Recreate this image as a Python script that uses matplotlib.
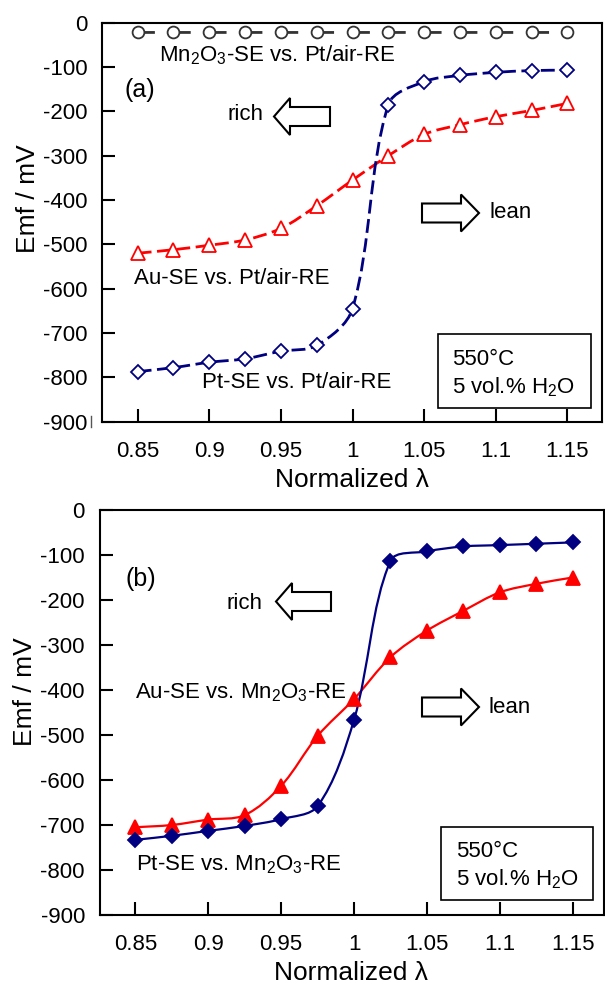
import numpy as np
import matplotlib
matplotlib.use("Agg")
import matplotlib.pyplot as plt
from matplotlib.path import Path
from matplotlib.patches import PathPatch, Polygon, Rectangle
from matplotlib.lines import Line2D

plt.rcParams['font.family'] = ['Liberation Sans', 'DejaVu Sans']
plt.rcParams['mathtext.fontset'] = 'custom'
plt.rcParams['mathtext.rm'] = 'Liberation Sans'
plt.rcParams['mathtext.it'] = 'Liberation Sans:italic'
plt.rcParams['lines.scale_dashes'] = False

# normalized lambda, same for every series
lam = [0.85, 0.875, 0.9, 0.925, 0.95, 0.975, 1.0, 1.025, 1.05, 1.075, 1.1, 1.125, 1.15]

# (a) sensing electrodes vs. Pt/air reference
emf_mn2o3_air = [-22, -22, -22, -22, -22, -22, -22, -22, -22, -22, -22, -22, -22]
emf_au_air = [-520, -512, -502, -490, -464, -413, -355, -300, -252, -230, -212, -198, -182]
emf_pt_air = [-787, -778, -766, -758, -741, -728, -645, -185, -133, -119, -112, -108, -107]

# (b) sensing electrodes vs. Mn2O3 reference
emf_au_mn = [-705, -700, -688, -678, -613, -502, -420, -327, -268, -224, -183, -164, -150]
emf_pt_mn = [-733, -724, -713, -702, -687, -658, -466, -113, -92, -81, -78, -75, -72]

xticks = [0.85, 0.9, 0.95, 1.0, 1.05, 1.1, 1.15]
xticklabels = ['0.85', '0.9', '0.95', '1', '1.05', '1.1', '1.15']
yticks = [0, -100, -200, -300, -400, -500, -600, -700, -800, -900]
yticklabels = ['0', '-100', '-200', '-300', '-400', '-500', '-600', '-700', '-800', '-900']

NAVY = '#000080'
RED = '#ff0000'
GREY = '#333333'
W, H = 605, 989


def smooth_path(ax, x, y):
    # smoothed line: cubic Bezier through every point, tangents weighted
    # by the on-screen length of the neighbouring segments
    p = np.column_stack([x, y]).astype(float)
    scr = ax.transData.transform(p)
    n = len(p)
    seg = np.hypot(*np.diff(scr, axis=0).T)
    verts = [p[0]]
    codes = [Path.MOVETO]

    def tangent(i):
        a = p[i - 1] if i > 0 else p[i]
        b = p[i + 1] if i + 1 < n else p[i]
        la = seg[i - 1] if i > 0 else 0.0
        lb = seg[i] if i + 1 < n else 0.0
        return b - a, la, lb

    for i in range(n - 1):
        t0, la0, lb0 = tangent(i)
        t1, la1, lb1 = tangent(i + 1)
        c1 = p[i] + t0 * lb0 / (la0 + lb0) / 3.0
        c2 = p[i + 1] - t1 * la1 / (la1 + lb1) / 3.0
        verts += [c1, c2, p[i + 1]]
        codes += [Path.CURVE4] * 3
    return Path(verts, codes)


def draw_series(ax, x, y, color, lw, ls, marker, ms, filled, mec=None):
    patch = PathPatch(smooth_path(ax, x, y), fill=False, ec=color, lw=lw, ls=ls,
                      transform=ax.transData, zorder=2, capstyle='butt')
    ax.add_patch(patch)
    ax.plot(x, y, ls='none', marker=marker, ms=ms,
            mfc=color if filled else 'white', mec=mec or color,
            mew=1.3, zorder=3, clip_on=False)


def block_arrow(fig, x_tail, x_tip, yc, head_len, body_half=9.5, head_half=18.5):
    # hollow block arrow, given in pixels from the top-left corner
    s = 1 if x_tip > x_tail else -1
    xb = x_tip - s * head_len
    pts = [(x_tail, yc - body_half), (xb, yc - body_half), (xb, yc - head_half),
           (x_tip, yc), (xb, yc + head_half), (xb, yc + body_half),
           (x_tail, yc + body_half)]
    pts = [(px / W, 1 - py / H) for px, py in pts]
    fig.patches.append(Polygon(pts, closed=True, fc='white', ec='black', lw=1.5,
                               transform=fig.transFigure, figure=fig))


def style_axes(ax, xlim, ylabel_y):
    ax.set_xlim(*xlim)
    ax.set_ylim(-900, 0)
    ax.set_xticks(xticks)
    ax.set_xticklabels(xticklabels)
    ax.set_yticks(yticks)
    ax.set_yticklabels(yticklabels)
    ax.tick_params(direction='in', length=9.5, width=1.5, labelsize=16,
                   top=False, right=False)
    ax.tick_params(axis='x', pad=14)
    ax.tick_params(axis='y', pad=10.5)
    for sp in ax.spines.values():
        sp.set_linewidth(1.5)
    ax.set_xlabel('Normalized λ', fontsize=19, labelpad=4)
    ax.set_ylabel('Emf / mV', fontsize=19, va='center')
    ax.yaxis.set_label_coords(-0.148, ylabel_y)


def condition_box(ax, x0, x1, y0, y1, xt, yt1, yt2):
    ax.add_patch(Rectangle((x0, y1), x1 - x0, y0 - y1, fill=False, ec='black',
                           lw=1.2, zorder=4))
    ax.text(xt, yt1, '550°C', fontsize=16, va='center', ha='left')
    ax.text(xt, yt2, '5 vol.% H$_2$O', fontsize=16, va='center', ha='left')


fig = plt.figure(figsize=(W / 100, H / 100), dpi=100)

# ---- (a) ----
ax1 = fig.add_axes([102 / W, 1 - 421.7 / H, 500 / W, 399 / H])
style_axes(ax1, (0.8251, 1.1742), 0.558)
draw_series(ax1, lam, emf_mn2o3_air, GREY, 2.0, (0, (12.4, 13.4)), 'o', 8.5, False)
draw_series(ax1, lam, emf_au_air, RED, 2.0, (0, (10, 4)), '^', 9.5, False)
draw_series(ax1, lam, emf_pt_air, NAVY, 2.0, (0, (10, 4)), 'D', 7.5, False)

ax1.text(0.8649, -73, 'Mn$_2$O$_3$-SE vs. Pt/air-RE', fontsize=16, va='center')
ax1.text(0.8411, -152, '(a)', fontsize=18, va='center')
ax1.text(0.9124, -208, 'rich', fontsize=16, va='center')
ax1.text(1.096, -427, 'lean', fontsize=16, va='center')
ax1.text(0.8474, -578, 'Au-SE vs. Pt/air-RE', fontsize=16, va='center')
ax1.text(0.8949, -811, 'Pt-SE vs. Pt/air-RE', fontsize=16, va='center')
# small stray stroke beside the -900 label
fig.lines.append(Line2D([91 / W, 91 / W], [1 - 416 / H, 1 - 427 / H], lw=1.0,
                        color='#555555', transform=fig.transFigure, figure=fig))
condition_box(ax1, 1.0597, 1.1666, -702, -869, 1.0695, -759, -822)
block_arrow(fig, 330, 274, 116.5, 16)
block_arrow(fig, 422, 479, 213, 18)

# ---- (b) ----
ax2 = fig.add_axes([99.5 / W, 1 - 915 / H, 504 / W, 405 / H])
style_axes(ax2, (0.8254, 1.1711), 0.551)
draw_series(ax2, lam, emf_au_mn, RED, 1.6, '-', '^', 9.5, True)
draw_series(ax2, lam, emf_pt_mn, NAVY, 1.6, '-', 'D', 7.5, True)

ax2.text(0.8429, -153, '(b)', fontsize=18, va='center')
ax2.text(0.9122, -207, 'rich', fontsize=16, va='center')
ax2.text(0.8498, -407, 'Au-SE vs. Mn$_2$O$_3$-RE', fontsize=16, va='center')
ax2.text(1.0919, -438, 'lean', fontsize=16, va='center')
ax2.text(0.8505, -789, 'Pt-SE vs. Mn$_2$O$_3$-RE', fontsize=16, va='center')
condition_box(ax2, 1.0594, 1.1636, -704, -867, 1.0700, -758, -820)
block_arrow(fig, 331, 276, 601.5, 16)
block_arrow(fig, 422, 479, 707, 18)

fig.savefig('out.png', dpi=100)
